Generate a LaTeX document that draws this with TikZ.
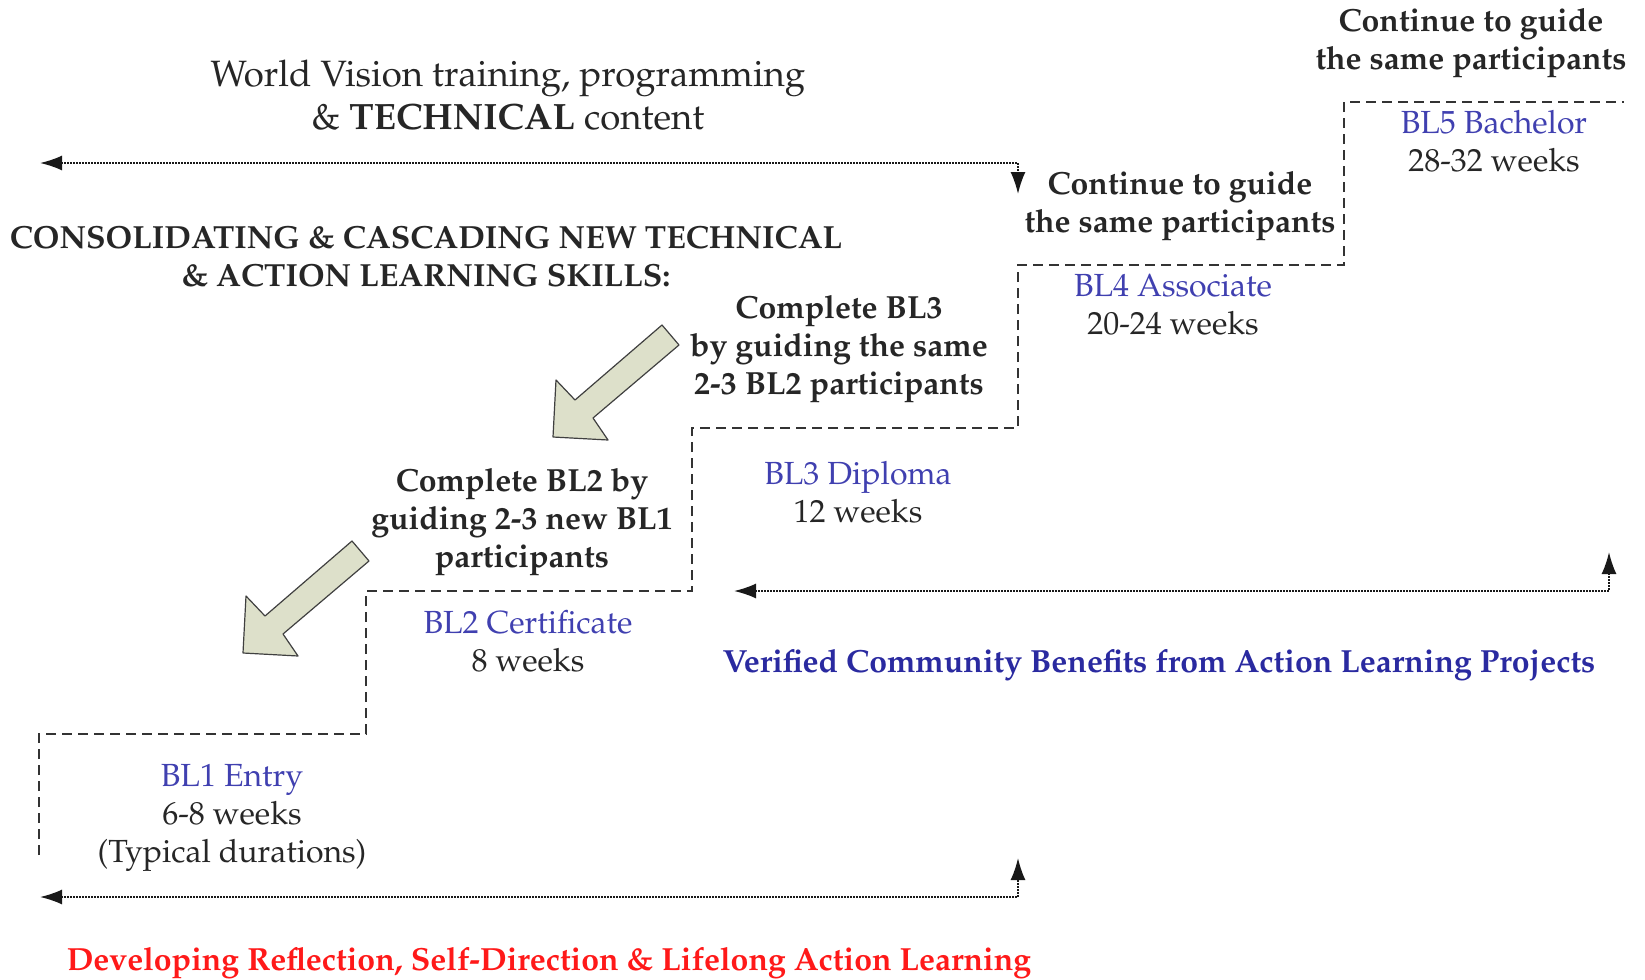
\documentclass[tikz,border=0pt]{standalone}
\usepackage[T1]{fontenc}
\usepackage{mathpazo}
\usepackage{tikz}
\usetikzlibrary{arrows, arrows.meta}
\definecolor{levelblue}{RGB}{64,64,176}
\definecolor{benefitblue}{RGB}{42,42,160}
\definecolor{lifered}{RGB}{255,25,25}
\definecolor{arrowfill}{RGB}{221,224,202}
\tikzset{>={Latex[length=11pt,width=7.5pt]}}
\tikzset{
  stair/.style={dash pattern=on 5pt off 3pt, line width=0.7pt, black!80},
  span/.style={<->, line width=0.9pt, black!90, dash pattern=on 0.8pt off 0.7pt},
  guide/.style={draw=black!75, fill=arrowfill, line width=0.6pt, line join=round},
  txt/.style={align=center, inner sep=0pt, text=black!85, font=\fontsize{16}{19}\selectfont},
  headtxt/.style={txt, font=\fontsize{16}{19}\selectfont\bfseries},
}
% fat arrow, tip at the origin
\newcommand{\guidearrow}[1]{%
  \draw[guide, shift={#1}] (0,0) -- (3,-57) -- (22,-37) -- (109,-112)
    -- (126,-92) -- (40,-19) -- (55,3) -- cycle;}

\begin{document}
\begin{tikzpicture}[x=0.5pt, y=-0.5pt]
	\useasboundingbox (0,0) rectangle (1645,980);
	% stairs
	\draw[stair] (39,855) -- (39,734) -- (366,734) -- (366,591) -- (692,591)
		-- (692,428) -- (1018,428) -- (1018,265) -- (1344,265) -- (1344,102) -- (1624,102);
	
	\node[txt, font=\fontsize{18.3}{21.5}\selectfont] (wv) at (508,95)
		{World Vision training, programming\\\& \textbf{TECHNICAL} content};
	\node[headtxt] (cont5) at (1471,43) {Continue to guide\\the same participants};
	\node[txt] (bl5) at (1494,141) {\textcolor{levelblue}{BL5 Bachelor}\\28-32 weeks};
	\node[headtxt] (cont4) at (1180,206) {Continue to guide\\the same participants};
	\node[txt] (bl4) at (1173,305) {\textcolor{levelblue}{BL4 Associate}\\20-24 weeks};
	\node[headtxt] (cons) at (426,256) {CONSOLIDATING \& CASCADING NEW TECHNICAL\\\& ACTION LEARNING SKILLS:};
	\node[headtxt] (comp3) at (839,349) {Complete BL3\\by guiding the same\\2-3 BL2 participants};
	\node[txt] (bl3) at (858,492) {\textcolor{levelblue}{BL3 Diploma}\\12 weeks};
	\node[headtxt] (comp2) at (522,522) {Complete BL2 by\\guiding 2-3 new BL1\\participants};
	\node[txt] (bl2) at (528,641) {\textcolor{levelblue}{BL2 Certificate}\\8 weeks};
	\node[txt] (bl1) at (232,818) {\textcolor{levelblue}{BL1 Entry}\\6-8 weeks\\(Typical durations)};
	\node[headtxt, text=benefitblue] (benefit) at (1159,665) {Verified Community Benefits from Action Learning Projects};
	\node[headtxt, text=lifered] (life) at (549,963) {Developing Reflection, Self-Direction \& Lifelong Action Learning};
	
	\guidearrow{(553,437)}
	\guidearrow{(243,653)}
	
	% spans
	\coordinate (wvL) at (40,163);   \coordinate (wvT) at (1018,194);
	\coordinate (vcL) at (734,591);  \coordinate (vcT) at (1609,552);
	\coordinate (dvL) at (40,897);   \coordinate (dvT) at (1018,858);
	\draw[span] (wvL) -| (wvT);
	\draw[span] (vcL) -| (vcT);
	\draw[span] (dvL) -| (dvT);
\end{tikzpicture}
\end{document}
